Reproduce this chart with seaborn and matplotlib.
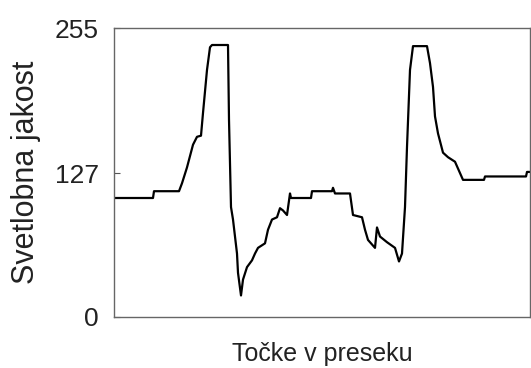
import seaborn as sns
import matplotlib.pyplot as plt
import pandas as pd

# profile of light intensity along the cross-section
tocke = [0, 39, 40, 65, 68, 73, 79, 83, 87, 89, 93, 96, 98, 114, 115, 117,
         119, 123, 124, 127, 129, 133, 138, 141, 144, 151, 154, 158, 163, 166,
         169, 173, 176, 177, 197, 198, 218, 219, 221, 236, 239, 248, 251, 254,
         261, 263, 266, 273, 281, 285, 288, 291, 293, 296, 299, 313, 316, 319,
         321, 324, 329, 334, 341, 344, 349, 370, 371, 412, 413, 416]
jakost = [105, 105, 111, 111, 118, 132, 152, 159, 160, 180, 218, 238, 240, 240,
          174, 97, 86, 56, 39, 19, 33, 44, 50, 56, 61, 65, 77, 86, 88, 96,
          94, 90, 109, 105, 105, 111, 111, 114, 109, 109, 90, 88, 77, 68,
          61, 79, 71, 66, 61, 49, 56, 97, 150, 218, 239, 239, 224, 203,
          177, 162, 145, 141, 137, 131, 121, 121, 124, 124, 128, 128]
y_ticks = [0, 127, 255]

df = pd.DataFrame({"x": tocke, "y": jakost})

sns.set_theme(style="white")
plt.rcParams["font.family"] = ["Liberation Sans", "DejaVu Sans"]

fig = plt.figure(figsize=(5.31, 3.68), dpi=100)
ax = fig.add_axes([114 / 531, 1 - 317 / 368, 416 / 531, 289 / 368])

sns.lineplot(data=df, x="x", y="y", ax=ax, color="black", linewidth=1.6,
             sort=False, estimator=None)

ax.set_xlim(0, 416)
ax.set_ylim(0, 255)
ax.set_xticks([])
ax.set_yticks(y_ticks)
ax.set_yticklabels([str(v) for v in y_ticks], fontsize=19, color="#222222")
ax.tick_params(axis="y", direction="in", length=4, width=0.8,
               color="#555555", pad=11, left=True)
for s in ax.spines.values():
    s.set_color("#666666")
    s.set_linewidth(1.0)

ax.set_ylabel("Svetlobna jakost", fontsize=22, color="#222222", labelpad=10)
ax.set_xlabel("Točke v preseku", fontsize=18, color="#222222", labelpad=18)

fig.savefig("out.png", dpi=100)
